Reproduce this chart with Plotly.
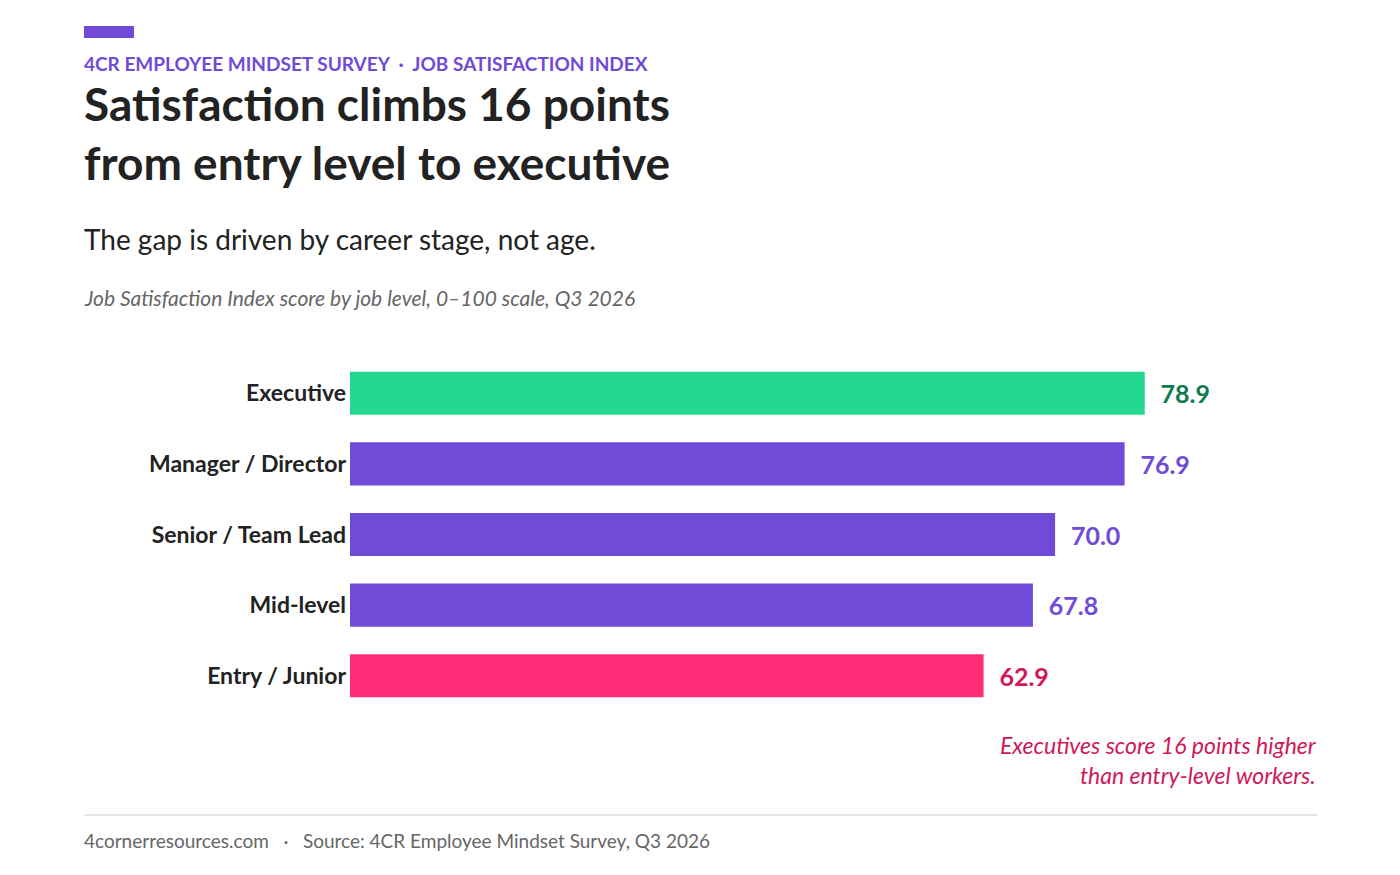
import plotly.graph_objects as go

levels = ["Executive", "Manager / Director", "Senior / Team Lead", "Mid-level", "Entry / Junior"]
scores = [78.9, 76.9, 70.0, 67.8, 62.9]
bar_colors = ["#25D890", "#6F4BD8", "#6F4BD8", "#6F4BD8", "#FF2D78"]
label_colors = ["#0E7A4F", "#6F4BD8", "#6F4BD8", "#6F4BD8", "#D0185A"]

W, H = 1400, 875
OFF = 8  # page margin offset in the screenshot
L, R, T, B = 350 - OFF, 83 + OFF, 358 - OFF, 164 + OFF
pw, ph = W - L - R, H - T - B

def px(x):
    return (x - OFF - L) / pw

def py(y):
    return (H - B - (y - OFF)) / ph

FONT = "Lato, Noto Sans, sans-serif"

fig = go.Figure(go.Bar(
    x=scores, y=levels, orientation="h",
    marker=dict(color=bar_colors, line=dict(width=0)),
    text=[f"{v:.1f}" for v in scores], textposition="outside",
    texttemplate="  <b>%{text}</b>",
    textfont=dict(family=FONT, size=25, color=label_colors),
    cliponaxis=False, hoverinfo="skip",
))

fig.update_layout(
    width=W, height=H, margin=dict(l=L, r=R, t=T, b=B),
    paper_bgcolor="white", plot_bgcolor="white",
    bargap=0.39, showlegend=False, font=dict(family=FONT),
    xaxis=dict(range=[0, 96], visible=False),
    yaxis=dict(autorange="reversed", showgrid=False, ticks="", ticklen=0,
               tickfont=dict(family=FONT, size=23, color="#222222"),
               tickprefix="<b>", ticksuffix="</b>", ticklabelstandoff=3),
)

def note(x, y, text, size, color, anchor="left", italic=False, bold=False):
    if bold:
        text = f"<b>{text}</b>"
    if italic:
        text = f"<i>{text}</i>"
    x = x - 2 if anchor == "left" else x + 2
    fig.add_annotation(xref="paper", yref="paper", x=px(x), y=py(y), text=text,
                       showarrow=False, xanchor=anchor, yanchor="middle", align=anchor,
                       font=dict(family=FONT, size=size, color=color))

note(84, 63, "4CR EMPLOYEE MINDSET SURVEY  ·  JOB SATISFACTION INDEX", 19, "#6F4BD8", bold=True)
note(84, 104, "Satisfaction climbs 16 points", 46, "#222222", bold=True)
note(84, 162, "from entry level to executive", 46, "#222222", bold=True)
note(84, 239, "The gap is driven by career stage, not age.", 28, "#222222")
note(84, 297, "Job Satisfaction Index score by job level, 0–100 scale, Q3 2026", 21, "#666666", italic=True)
note(1317, 760, "Executives score 16 points higher<br>than entry-level workers.", 23, "#D0185A", anchor="right", italic=True)
note(84, 840, "4cornerresources.com   ·   Source: 4CR Employee Mindset Survey, Q3 2026", 19, "#666666")

fig.add_shape(type="rect", xref="paper", yref="paper", x0=px(84), x1=px(134), y0=py(26), y1=py(38),
              fillcolor="#6F4BD8", line=dict(width=0))
fig.add_shape(type="line", xref="paper", yref="paper", x0=px(84), x1=px(1317), y0=py(815), y1=py(815),
              line=dict(color="#DDDDDD", width=1.5))

fig.write_html("out.html")
